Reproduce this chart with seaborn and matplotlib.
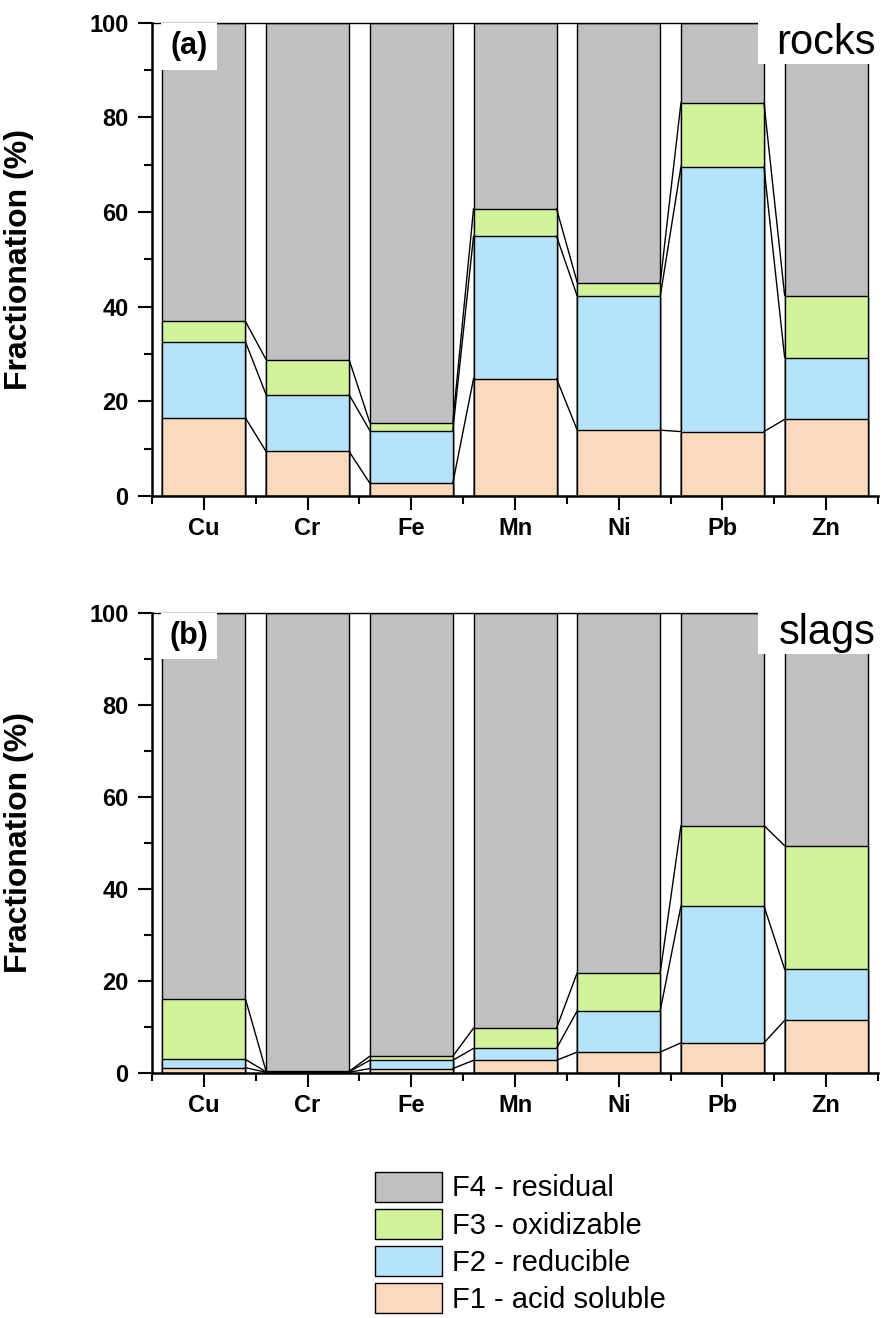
import matplotlib
matplotlib.use("Agg")
import matplotlib.pyplot as plt
import numpy as np
import seaborn as sns
from matplotlib.patches import Patch, Rectangle
from matplotlib.ticker import MultipleLocator

# data: fraction sizes (% of total)
elements = ['Cu', 'Cr', 'Fe', 'Mn', 'Ni', 'Pb', 'Zn']

rocks_f1 = [16.5, 9.4, 2.7, 24.8, 13.9, 13.6, 16.2]
rocks_f2 = [16.1, 12.0, 11.1, 30.1, 28.3, 56.0, 13.0]
rocks_f3 = [4.3, 7.4, 1.7, 5.8, 2.9, 13.5, 13.1]

slags_f1 = [1.1, 0.1, 0.9, 2.7, 4.5, 6.5, 11.4]
slags_f2 = [1.8, 0.1, 1.8, 2.6, 9.0, 29.8, 11.1]
slags_f3 = [13.2, 0.1, 0.9, 4.4, 8.3, 17.5, 26.9]

fractions = ['F4 - residual', 'F3 - oxidizable', 'F2 - reducible', 'F1 - acid soluble']
colors = ['#c0c0c0', '#d2f39a', '#b5e3fb', '#fad9bc']

sns.set_theme(style='ticks')
plt.rcParams['font.family'] = ['Liberation Sans', 'DejaVu Sans']
plt.rcParams.update({'text.color': 'black', 'axes.labelcolor': 'black',
                     'xtick.color': 'black', 'ytick.color': 'black',
                     'axes.edgecolor': 'black'})


def stacked_panel(ax, f1, f2, f3, tag, name):
    f1 = np.array(f1)
    c1 = f1
    c2 = c1 + np.array(f2)
    c3 = c2 + np.array(f3)
    c4 = np.full(len(f1), 100.0)
    # draw cumulative totals from the tallest down so they stack
    for cum, col in zip([c4, c3, c2, c1], colors):
        sns.barplot(x=elements, y=cum, order=elements, color=col, saturation=1,
                    width=0.8, edgecolor='black', linewidth=1.0, errorbar=None, ax=ax)
    # connecting lines between neighbouring bars
    for cum in [c1, c2, c3]:
        for i in range(len(elements) - 1):
            ax.plot([i + 0.4, i + 0.6], [cum[i], cum[i + 1]], color='black', lw=1.0, zorder=3)

    ax.set_xlim(-0.5, len(elements) - 0.5)
    ax.set_ylim(0, 100)
    ax.yaxis.set_major_locator(MultipleLocator(20))
    ax.yaxis.set_minor_locator(MultipleLocator(10))
    ax.xaxis.set_minor_locator(MultipleLocator(1, offset=0.5))
    ax.tick_params(axis='both', which='major', length=10, width=1.5, labelsize=17, color='black')
    ax.tick_params(axis='both', which='minor', length=6, width=1.5, color='black')
    ax.tick_params(axis='y', pad=7)
    ax.tick_params(axis='x', pad=5)
    for lab in ax.get_xticklabels() + ax.get_yticklabels():
        lab.set_fontweight('bold')
    ax.set_xlabel('')
    ax.set_ylabel('Fractionation (%)', fontsize=23, fontweight='bold')
    ax.yaxis.set_label_coords(-0.163, 0.5)
    ax.spines['right'].set_visible(False)
    ax.spines['left'].set_linewidth(1.8)
    ax.spines['bottom'].set_linewidth(1.8)
    ax.spines['top'].set_linewidth(1.0)

    # panel tag box
    ax.add_patch(Rectangle((0.012, 0.9), 0.078, 0.1, transform=ax.transAxes,
                           facecolor='white', edgecolor='none', zorder=5))
    ax.text(0.051, 0.95, tag, transform=ax.transAxes, ha='center', va='center',
            fontsize=22, fontweight='bold', zorder=6)
    # sample name box
    ax.add_patch(Rectangle((0.835, 0.912), 0.2, 0.1, transform=ax.transAxes,
                           facecolor='white', edgecolor='none', zorder=5, clip_on=False))
    ax.text(0.997, 0.956, name, transform=ax.transAxes, ha='right', va='center',
            fontsize=30, zorder=6)


fig = plt.figure(figsize=(8.86, 13.18), dpi=100)
ax1 = fig.add_axes([0.1716, 0.6237, 0.8194, 0.3591])
ax2 = fig.add_axes([0.1716, 0.1861, 0.8194, 0.3486])

stacked_panel(ax1, rocks_f1, rocks_f2, rocks_f3, '(a)', 'rocks')
stacked_panel(ax2, slags_f1, slags_f2, slags_f3, '(b)', 'slags')

handles = [Patch(facecolor=c, edgecolor='black', linewidth=1.0) for c in colors]
fig.legend(handles, fractions, loc='upper left', bbox_to_anchor=(0.423, 0.111),
           frameon=False, fontsize=21, handlelength=2.3, handleheight=1.2,
           labelspacing=0.22, handletextpad=0.35, borderpad=0, borderaxespad=0)

fig.savefig('out.png', dpi=100)
